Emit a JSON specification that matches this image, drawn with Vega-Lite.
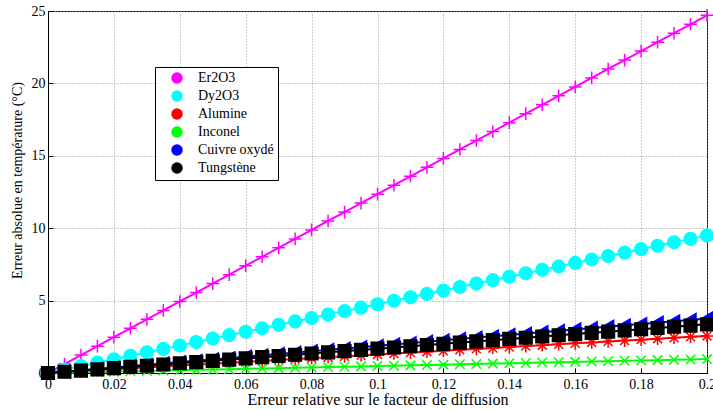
{
 "$schema": "https://vega.github.io/schema/vega-lite/v6.json",
 "width": 659,
 "height": 362,
 "autosize": "none",
 "padding": {"left": 48, "top": 11, "right": 6, "bottom": 37},
 "background": "white",
 "config": {
  "view": {"stroke": "black", "strokeWidth": 1},
  "font": "Liberation Serif",
  "axis": {
   "labelFont": "Liberation Serif",
   "labelFontSize": 14,
   "labelColor": "black",
   "titleFont": "Liberation Serif",
   "titleFontWeight": "normal",
   "titleColor": "black",
   "domainColor": "black",
   "tickColor": "black",
   "tickSize": -5,
   "grid": true,
   "gridColor": "#999999",
   "gridDash": [1, 2],
   "gridWidth": 1
  },
  "legend": {
   "orient": "none", "legendX": 107, "legendY": 56, "title": null,
   "strokeColor": "black", "fillColor": "white", "padding": 4, "cornerRadius": 0,
   "labelFont": "Liberation Serif", "labelFontSize": 14, "labelColor": "black",
   "symbolSize": 100, "symbolOffset": 11, "labelOffset": 14, "rowPadding": 2, "symbolStrokeWidth": 1.5
  }
 },
 "data": {"values": [
  {"s":"Er2O3","x":0,"y":0},{"s":"Er2O3","x":0.005,"y":0.6175},{"s":"Er2O3","x":0.01,"y":1.235},{"s":"Er2O3","x":0.015,"y":1.8525},{"s":"Er2O3","x":0.02,"y":2.47},{"s":"Er2O3","x":0.025,"y":3.0875},{"s":"Er2O3","x":0.03,"y":3.705},{"s":"Er2O3","x":0.035,"y":4.3225},{"s":"Er2O3","x":0.04,"y":4.94},{"s":"Er2O3","x":0.045,"y":5.5575},{"s":"Er2O3","x":0.05,"y":6.175},{"s":"Er2O3","x":0.055,"y":6.7925},{"s":"Er2O3","x":0.06,"y":7.41},{"s":"Er2O3","x":0.065,"y":8.0275},{"s":"Er2O3","x":0.07,"y":8.645},{"s":"Er2O3","x":0.075,"y":9.2625},{"s":"Er2O3","x":0.08,"y":9.88},{"s":"Er2O3","x":0.085,"y":10.4975},{"s":"Er2O3","x":0.09,"y":11.115},{"s":"Er2O3","x":0.095,"y":11.7325},{"s":"Er2O3","x":0.1,"y":12.35},{"s":"Er2O3","x":0.105,"y":12.9675},{"s":"Er2O3","x":0.11,"y":13.585},{"s":"Er2O3","x":0.115,"y":14.2025},{"s":"Er2O3","x":0.12,"y":14.82},{"s":"Er2O3","x":0.125,"y":15.4375},{"s":"Er2O3","x":0.13,"y":16.055},{"s":"Er2O3","x":0.135,"y":16.6725},{"s":"Er2O3","x":0.14,"y":17.29},{"s":"Er2O3","x":0.145,"y":17.9075},{"s":"Er2O3","x":0.15,"y":18.525},{"s":"Er2O3","x":0.155,"y":19.1425},{"s":"Er2O3","x":0.16,"y":19.76},{"s":"Er2O3","x":0.165,"y":20.3775},{"s":"Er2O3","x":0.17,"y":20.995},{"s":"Er2O3","x":0.175,"y":21.6125},{"s":"Er2O3","x":0.18,"y":22.23},{"s":"Er2O3","x":0.185,"y":22.8475},{"s":"Er2O3","x":0.19,"y":23.465},{"s":"Er2O3","x":0.195,"y":24.0825},{"s":"Er2O3","x":0.2,"y":24.7},
  {"s":"Dy2O3","x":0,"y":0},{"s":"Dy2O3","x":0.005,"y":0.2375},{"s":"Dy2O3","x":0.01,"y":0.475},{"s":"Dy2O3","x":0.015,"y":0.7125},{"s":"Dy2O3","x":0.02,"y":0.95},{"s":"Dy2O3","x":0.025,"y":1.1875},{"s":"Dy2O3","x":0.03,"y":1.425},{"s":"Dy2O3","x":0.035,"y":1.6625},{"s":"Dy2O3","x":0.04,"y":1.9},{"s":"Dy2O3","x":0.045,"y":2.1375},{"s":"Dy2O3","x":0.05,"y":2.375},{"s":"Dy2O3","x":0.055,"y":2.6125},{"s":"Dy2O3","x":0.06,"y":2.85},{"s":"Dy2O3","x":0.065,"y":3.0875},{"s":"Dy2O3","x":0.07,"y":3.325},{"s":"Dy2O3","x":0.075,"y":3.5625},{"s":"Dy2O3","x":0.08,"y":3.8},{"s":"Dy2O3","x":0.085,"y":4.0375},{"s":"Dy2O3","x":0.09,"y":4.275},{"s":"Dy2O3","x":0.095,"y":4.5125},{"s":"Dy2O3","x":0.1,"y":4.75},{"s":"Dy2O3","x":0.105,"y":4.9875},{"s":"Dy2O3","x":0.11,"y":5.225},{"s":"Dy2O3","x":0.115,"y":5.4625},{"s":"Dy2O3","x":0.12,"y":5.7},{"s":"Dy2O3","x":0.125,"y":5.9375},{"s":"Dy2O3","x":0.13,"y":6.175},{"s":"Dy2O3","x":0.135,"y":6.4125},{"s":"Dy2O3","x":0.14,"y":6.65},{"s":"Dy2O3","x":0.145,"y":6.8875},{"s":"Dy2O3","x":0.15,"y":7.125},{"s":"Dy2O3","x":0.155,"y":7.3625},{"s":"Dy2O3","x":0.16,"y":7.6},{"s":"Dy2O3","x":0.165,"y":7.8375},{"s":"Dy2O3","x":0.17,"y":8.075},{"s":"Dy2O3","x":0.175,"y":8.3125},{"s":"Dy2O3","x":0.18,"y":8.55},{"s":"Dy2O3","x":0.185,"y":8.7875},{"s":"Dy2O3","x":0.19,"y":9.025},{"s":"Dy2O3","x":0.195,"y":9.2625},{"s":"Dy2O3","x":0.2,"y":9.5},
  {"s":"Alumine","x":0,"y":0},{"s":"Alumine","x":0.005,"y":0.064},{"s":"Alumine","x":0.01,"y":0.128},{"s":"Alumine","x":0.015,"y":0.192},{"s":"Alumine","x":0.02,"y":0.256},{"s":"Alumine","x":0.025,"y":0.32},{"s":"Alumine","x":0.03,"y":0.384},{"s":"Alumine","x":0.035,"y":0.448},{"s":"Alumine","x":0.04,"y":0.512},{"s":"Alumine","x":0.045,"y":0.576},{"s":"Alumine","x":0.05,"y":0.64},{"s":"Alumine","x":0.055,"y":0.704},{"s":"Alumine","x":0.06,"y":0.768},{"s":"Alumine","x":0.065,"y":0.832},{"s":"Alumine","x":0.07,"y":0.896},{"s":"Alumine","x":0.075,"y":0.96},{"s":"Alumine","x":0.08,"y":1.024},{"s":"Alumine","x":0.085,"y":1.088},{"s":"Alumine","x":0.09,"y":1.152},{"s":"Alumine","x":0.095,"y":1.216},{"s":"Alumine","x":0.1,"y":1.28},{"s":"Alumine","x":0.105,"y":1.344},{"s":"Alumine","x":0.11,"y":1.408},{"s":"Alumine","x":0.115,"y":1.472},{"s":"Alumine","x":0.12,"y":1.536},{"s":"Alumine","x":0.125,"y":1.6},{"s":"Alumine","x":0.13,"y":1.664},{"s":"Alumine","x":0.135,"y":1.728},{"s":"Alumine","x":0.14,"y":1.792},{"s":"Alumine","x":0.145,"y":1.856},{"s":"Alumine","x":0.15,"y":1.92},{"s":"Alumine","x":0.155,"y":1.984},{"s":"Alumine","x":0.16,"y":2.048},{"s":"Alumine","x":0.165,"y":2.112},{"s":"Alumine","x":0.17,"y":2.176},{"s":"Alumine","x":0.175,"y":2.24},{"s":"Alumine","x":0.18,"y":2.304},{"s":"Alumine","x":0.185,"y":2.368},{"s":"Alumine","x":0.19,"y":2.432},{"s":"Alumine","x":0.195,"y":2.496},{"s":"Alumine","x":0.2,"y":2.56},
  {"s":"Inconel","x":0,"y":0},{"s":"Inconel","x":0.005,"y":0.024},{"s":"Inconel","x":0.01,"y":0.048},{"s":"Inconel","x":0.015,"y":0.072},{"s":"Inconel","x":0.02,"y":0.096},{"s":"Inconel","x":0.025,"y":0.12},{"s":"Inconel","x":0.03,"y":0.144},{"s":"Inconel","x":0.035,"y":0.168},{"s":"Inconel","x":0.04,"y":0.192},{"s":"Inconel","x":0.045,"y":0.216},{"s":"Inconel","x":0.05,"y":0.24},{"s":"Inconel","x":0.055,"y":0.264},{"s":"Inconel","x":0.06,"y":0.288},{"s":"Inconel","x":0.065,"y":0.312},{"s":"Inconel","x":0.07,"y":0.336},{"s":"Inconel","x":0.075,"y":0.36},{"s":"Inconel","x":0.08,"y":0.384},{"s":"Inconel","x":0.085,"y":0.408},{"s":"Inconel","x":0.09,"y":0.432},{"s":"Inconel","x":0.095,"y":0.456},{"s":"Inconel","x":0.1,"y":0.48},{"s":"Inconel","x":0.105,"y":0.504},{"s":"Inconel","x":0.11,"y":0.528},{"s":"Inconel","x":0.115,"y":0.552},{"s":"Inconel","x":0.12,"y":0.576},{"s":"Inconel","x":0.125,"y":0.6},{"s":"Inconel","x":0.13,"y":0.624},{"s":"Inconel","x":0.135,"y":0.648},{"s":"Inconel","x":0.14,"y":0.672},{"s":"Inconel","x":0.145,"y":0.696},{"s":"Inconel","x":0.15,"y":0.72},{"s":"Inconel","x":0.155,"y":0.744},{"s":"Inconel","x":0.16,"y":0.768},{"s":"Inconel","x":0.165,"y":0.792},{"s":"Inconel","x":0.17,"y":0.816},{"s":"Inconel","x":0.175,"y":0.84},{"s":"Inconel","x":0.18,"y":0.864},{"s":"Inconel","x":0.185,"y":0.888},{"s":"Inconel","x":0.19,"y":0.912},{"s":"Inconel","x":0.195,"y":0.936},{"s":"Inconel","x":0.2,"y":0.96},
  {"s":"Cuivre oxydé","x":0,"y":0},{"s":"Cuivre oxydé","x":0.005,"y":0.094},{"s":"Cuivre oxydé","x":0.01,"y":0.188},{"s":"Cuivre oxydé","x":0.015,"y":0.282},{"s":"Cuivre oxydé","x":0.02,"y":0.376},{"s":"Cuivre oxydé","x":0.025,"y":0.47},{"s":"Cuivre oxydé","x":0.03,"y":0.564},{"s":"Cuivre oxydé","x":0.035,"y":0.658},{"s":"Cuivre oxydé","x":0.04,"y":0.752},{"s":"Cuivre oxydé","x":0.045,"y":0.846},{"s":"Cuivre oxydé","x":0.05,"y":0.94},{"s":"Cuivre oxydé","x":0.055,"y":1.034},{"s":"Cuivre oxydé","x":0.06,"y":1.128},{"s":"Cuivre oxydé","x":0.065,"y":1.222},{"s":"Cuivre oxydé","x":0.07,"y":1.316},{"s":"Cuivre oxydé","x":0.075,"y":1.41},{"s":"Cuivre oxydé","x":0.08,"y":1.504},{"s":"Cuivre oxydé","x":0.085,"y":1.598},{"s":"Cuivre oxydé","x":0.09,"y":1.692},{"s":"Cuivre oxydé","x":0.095,"y":1.786},{"s":"Cuivre oxydé","x":0.1,"y":1.88},{"s":"Cuivre oxydé","x":0.105,"y":1.974},{"s":"Cuivre oxydé","x":0.11,"y":2.068},{"s":"Cuivre oxydé","x":0.115,"y":2.162},{"s":"Cuivre oxydé","x":0.12,"y":2.256},{"s":"Cuivre oxydé","x":0.125,"y":2.35},{"s":"Cuivre oxydé","x":0.13,"y":2.444},{"s":"Cuivre oxydé","x":0.135,"y":2.538},{"s":"Cuivre oxydé","x":0.14,"y":2.632},{"s":"Cuivre oxydé","x":0.145,"y":2.726},{"s":"Cuivre oxydé","x":0.15,"y":2.82},{"s":"Cuivre oxydé","x":0.155,"y":2.914},{"s":"Cuivre oxydé","x":0.16,"y":3.008},{"s":"Cuivre oxydé","x":0.165,"y":3.102},{"s":"Cuivre oxydé","x":0.17,"y":3.196},{"s":"Cuivre oxydé","x":0.175,"y":3.29},{"s":"Cuivre oxydé","x":0.18,"y":3.384},{"s":"Cuivre oxydé","x":0.185,"y":3.478},{"s":"Cuivre oxydé","x":0.19,"y":3.572},{"s":"Cuivre oxydé","x":0.195,"y":3.666},{"s":"Cuivre oxydé","x":0.2,"y":3.76},
  {"s":"Tungstène","x":0,"y":0},{"s":"Tungstène","x":0.005,"y":0.084},{"s":"Tungstène","x":0.01,"y":0.168},{"s":"Tungstène","x":0.015,"y":0.252},{"s":"Tungstène","x":0.02,"y":0.336},{"s":"Tungstène","x":0.025,"y":0.42},{"s":"Tungstène","x":0.03,"y":0.504},{"s":"Tungstène","x":0.035,"y":0.588},{"s":"Tungstène","x":0.04,"y":0.672},{"s":"Tungstène","x":0.045,"y":0.756},{"s":"Tungstène","x":0.05,"y":0.84},{"s":"Tungstène","x":0.055,"y":0.924},{"s":"Tungstène","x":0.06,"y":1.008},{"s":"Tungstène","x":0.065,"y":1.092},{"s":"Tungstène","x":0.07,"y":1.176},{"s":"Tungstène","x":0.075,"y":1.26},{"s":"Tungstène","x":0.08,"y":1.344},{"s":"Tungstène","x":0.085,"y":1.428},{"s":"Tungstène","x":0.09,"y":1.512},{"s":"Tungstène","x":0.095,"y":1.596},{"s":"Tungstène","x":0.1,"y":1.68},{"s":"Tungstène","x":0.105,"y":1.764},{"s":"Tungstène","x":0.11,"y":1.848},{"s":"Tungstène","x":0.115,"y":1.932},{"s":"Tungstène","x":0.12,"y":2.016},{"s":"Tungstène","x":0.125,"y":2.1},{"s":"Tungstène","x":0.13,"y":2.184},{"s":"Tungstène","x":0.135,"y":2.268},{"s":"Tungstène","x":0.14,"y":2.352},{"s":"Tungstène","x":0.145,"y":2.436},{"s":"Tungstène","x":0.15,"y":2.52},{"s":"Tungstène","x":0.155,"y":2.604},{"s":"Tungstène","x":0.16,"y":2.688},{"s":"Tungstène","x":0.165,"y":2.772},{"s":"Tungstène","x":0.17,"y":2.856},{"s":"Tungstène","x":0.175,"y":2.94},{"s":"Tungstène","x":0.18,"y":3.024},{"s":"Tungstène","x":0.185,"y":3.108},{"s":"Tungstène","x":0.19,"y":3.192},{"s":"Tungstène","x":0.195,"y":3.276},{"s":"Tungstène","x":0.2,"y":3.36}
 ]},
 "encoding": {
  "x": {"field": "x", "type": "quantitative", "scale": {"domain": [0, 0.2], "nice": false, "zero": false},
        "axis": {"values": [0, 0.02, 0.04, 0.06, 0.08, 0.1, 0.12, 0.14, 0.16, 0.18, 0.2], "format": "~g", "title": "Erreur relative sur le facteur de diffusion", "titleFontSize": 16, "labelPadding": 9, "titlePadding": 0, "labelFlush": false, "labelOverlap": false}},
  "y": {"field": "y", "type": "quantitative", "scale": {"domain": [0, 25], "nice": false},
        "axis": {"values": [0, 5, 10, 15, 20, 25], "title": "Erreur absolue en température (°C)", "titleFontSize": 14, "titleY": 169, "labelPadding": 8, "titlePadding": 7}}
 },
 "layer": [
  {
   "transform": [{"filter": "datum.s == 'Er2O3'"}],
   "layer": [
    {"mark": {"type": "line", "strokeWidth": 2, "color": "#ff00ff"}},
    {"mark": {"type": "point", "opacity": 1, "strokeWidth": 1.5, "size": 160, "shape": "M-1,0H1M0,-1V1"},
     "encoding": {
      "fill": {"field": "s", "type": "nominal",
        "scale": {"domain": ["Er2O3", "Dy2O3", "Alumine", "Inconel", "Cuivre oxydé", "Tungstène"], "range": ["#ff00ff", "#00ffff", "#ff0000", "#00ff00", "#0000ff", "#000000"]},
        "legend": {"labelFont": "Liberation Serif", "labelFontSize": 14, "labelExpr": "datum.label + '      '",
          "encode": {"symbols": {
            "update": {"shape": {"signal": "datum.value == 'Er2O3' ? 'M-3,0H3M0,-1.2V1.2' : datum.value == 'Dy2O3' ? 'M-3,0H3M-1.4,0A1.4,1.4,0,1,0,1.4,0A1.4,1.4,0,1,0,-1.4,0Z' : datum.value == 'Alumine' ? 'M-3,0H3M0,-1.2V1.2M-0.85,-0.85L0.85,0.85M-0.85,0.85L0.85,-0.85' : datum.value == 'Inconel' ? 'M-3,0H3M-0.9,-0.9L0.9,0.9M-0.9,0.9L0.9,-0.9' : datum.value == 'Cuivre oxydé' ? 'M-3,0H3M-1.5,0L1.2,-1.4L1.2,1.4Z' : 'M-3,0H3M-1.2,-1.2H1.2V1.2H-1.2Z'"}},
            "shape": {"value": {"expr": "datum.value == 'Er2O3' ? 'M-3,0H3M0,-1.2V1.2' : datum.value == 'Dy2O3' ? 'M-3,0H3M-1.4,0A1.4,1.4,0,1,0,1.4,0A1.4,1.4,0,1,0,-1.4,0Z' : datum.value == 'Alumine' ? 'M-3,0H3M0,-1.2V1.2M-0.85,-0.85L0.85,0.85M-0.85,0.85L0.85,-0.85' : datum.value == 'Inconel' ? 'M-3,0H3M-0.9,-0.9L0.9,0.9M-0.9,0.9L0.9,-0.9' : datum.value == 'Cuivre oxydé' ? 'M-3,0H3M-1.5,0L1.2,-1.4L1.2,1.4Z' : 'M-3,0H3M-1.2,-1.2H1.2V1.2H-1.2Z'"}}
          }}}},
      "stroke": {"field": "s", "type": "nominal",
        "scale": {"domain": ["Er2O3", "Dy2O3", "Alumine", "Inconel", "Cuivre oxydé", "Tungstène"], "range": ["#ff00ff", "#00ffff", "#ff0000", "#00ff00", "#0000ff", "#000000"]},
        "legend": {"labelFont": "Liberation Serif", "labelFontSize": 14, "labelExpr": "datum.label + '      '",
          "encode": {"symbols": {
            "update": {"shape": {"signal": "datum.value == 'Er2O3' ? 'M-3,0H3M0,-1.2V1.2' : datum.value == 'Dy2O3' ? 'M-3,0H3M-1.4,0A1.4,1.4,0,1,0,1.4,0A1.4,1.4,0,1,0,-1.4,0Z' : datum.value == 'Alumine' ? 'M-3,0H3M0,-1.2V1.2M-0.85,-0.85L0.85,0.85M-0.85,0.85L0.85,-0.85' : datum.value == 'Inconel' ? 'M-3,0H3M-0.9,-0.9L0.9,0.9M-0.9,0.9L0.9,-0.9' : datum.value == 'Cuivre oxydé' ? 'M-3,0H3M-1.5,0L1.2,-1.4L1.2,1.4Z' : 'M-3,0H3M-1.2,-1.2H1.2V1.2H-1.2Z'"}},
            "shape": {"value": {"expr": "datum.value == 'Er2O3' ? 'M-3,0H3M0,-1.2V1.2' : datum.value == 'Dy2O3' ? 'M-3,0H3M-1.4,0A1.4,1.4,0,1,0,1.4,0A1.4,1.4,0,1,0,-1.4,0Z' : datum.value == 'Alumine' ? 'M-3,0H3M0,-1.2V1.2M-0.85,-0.85L0.85,0.85M-0.85,0.85L0.85,-0.85' : datum.value == 'Inconel' ? 'M-3,0H3M-0.9,-0.9L0.9,0.9M-0.9,0.9L0.9,-0.9' : datum.value == 'Cuivre oxydé' ? 'M-3,0H3M-1.5,0L1.2,-1.4L1.2,1.4Z' : 'M-3,0H3M-1.2,-1.2H1.2V1.2H-1.2Z'"}}
          }}}}
     }}
   ]
  },
  {
   "transform": [{"filter": "datum.s == 'Dy2O3'"}],
   "layer": [
    {"mark": {"type": "line", "strokeWidth": 2, "color": "#00ffff"}},
    {"mark": {"type": "point", "opacity": 1, "strokeWidth": 1.5, "size": 160, "shape": "circle"},
     "encoding": {"fill": {"field": "s", "type": "nominal"}, "stroke": {"field": "s", "type": "nominal"}}}
   ]
  },
  {
   "transform": [{"filter": "datum.s == 'Alumine'"}],
   "layer": [
    {"mark": {"type": "line", "strokeWidth": 2, "color": "#ff0000"}},
    {"mark": {"type": "point", "opacity": 1, "strokeWidth": 1.5, "size": 160, "shape": "M-1,0H1M0,-1V1M-0.7,-0.7L0.7,0.7M-0.7,0.7L0.7,-0.7"},
     "encoding": {"fill": {"field": "s", "type": "nominal"}, "stroke": {"field": "s", "type": "nominal"}}}
   ]
  },
  {
   "transform": [{"filter": "datum.s == 'Inconel'"}],
   "layer": [
    {"mark": {"type": "line", "strokeWidth": 2, "color": "#00ff00"}},
    {"mark": {"type": "point", "opacity": 1, "strokeWidth": 1.5, "size": 160, "shape": "M-0.75,-0.75L0.75,0.75M-0.75,0.75L0.75,-0.75"},
     "encoding": {"fill": {"field": "s", "type": "nominal"}, "stroke": {"field": "s", "type": "nominal"}}}
   ]
  },
  {
   "transform": [{"filter": "datum.s == 'Cuivre oxydé'"}],
   "layer": [
    {"mark": {"type": "line", "strokeWidth": 2, "color": "#0000ff"}},
    {"mark": {"type": "point", "opacity": 1, "strokeWidth": 1.5, "size": 160, "shape": "triangle-left"},
     "encoding": {"fill": {"field": "s", "type": "nominal"}, "stroke": {"field": "s", "type": "nominal"}}}
   ]
  },
  {
   "transform": [{"filter": "datum.s == 'Tungstène'"}],
   "layer": [
    {"mark": {"type": "line", "strokeWidth": 2, "color": "#000000"}},
    {"mark": {"type": "point", "opacity": 1, "strokeWidth": 1.5, "size": 160, "shape": "square"},
     "encoding": {"fill": {"field": "s", "type": "nominal"}, "stroke": {"field": "s", "type": "nominal"}}}
   ]
  }
 ]
}
